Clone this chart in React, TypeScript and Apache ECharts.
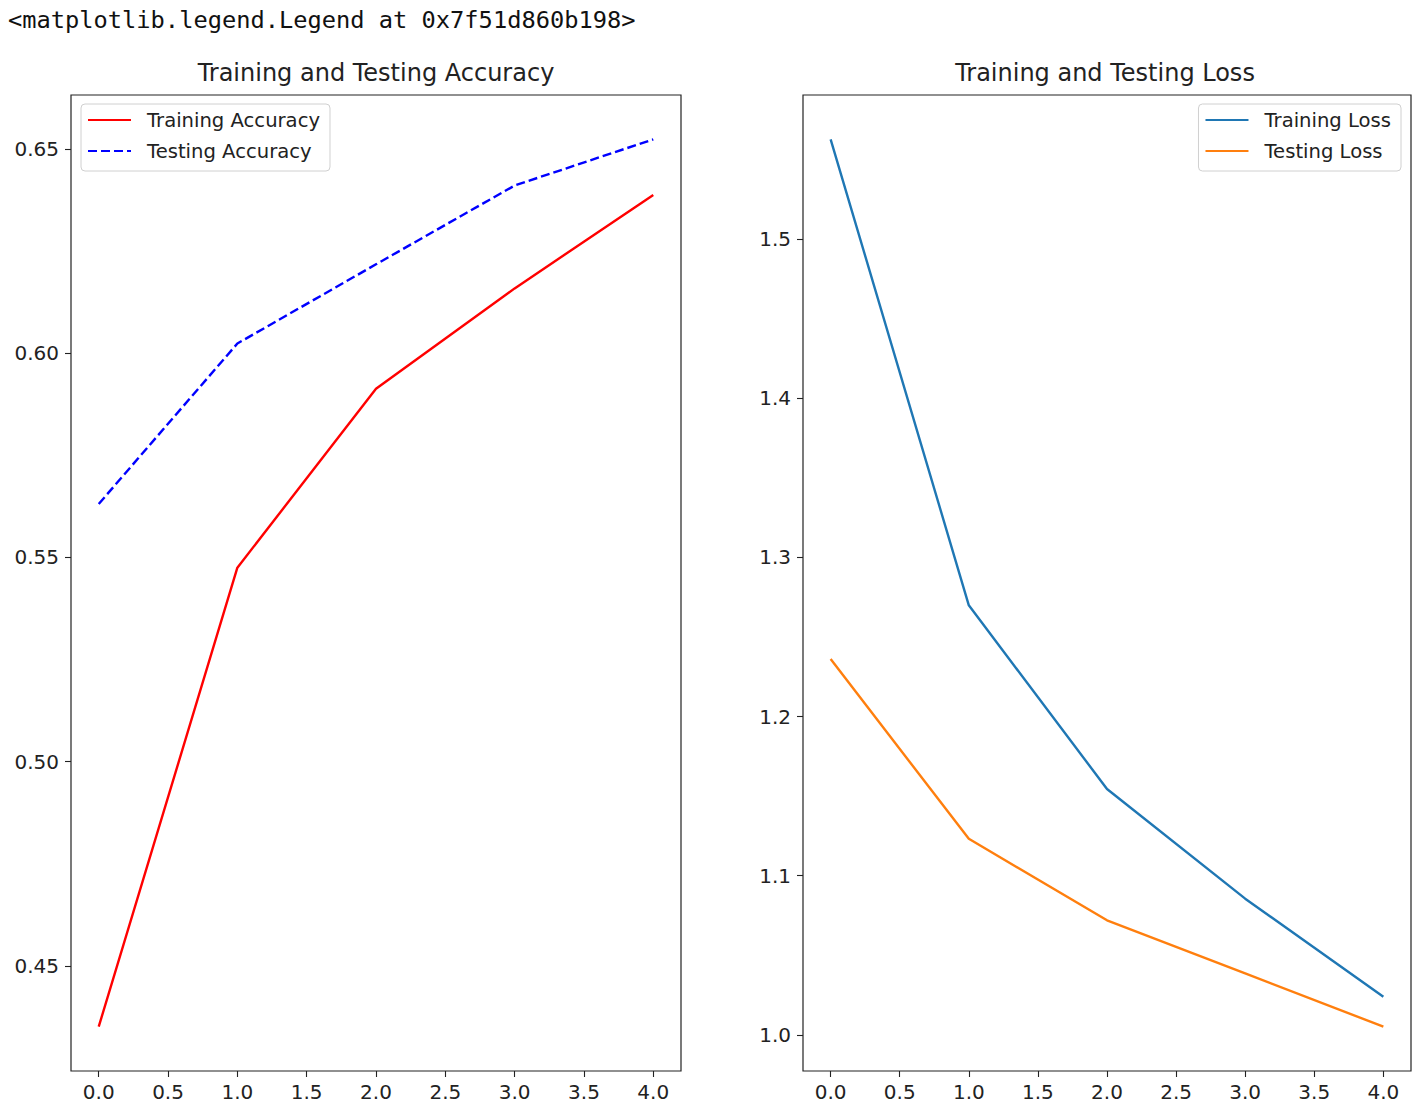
import React, { useEffect, useRef } from "react";
import * as echarts from "echarts";

const epochs = [0, 1, 2, 3, 4];
const trainAcc = [0.4351, 0.5475, 0.5913, 0.6159, 0.6388];
const testAcc = [0.5631, 0.6024, 0.6218, 0.6411, 0.6524];
const trainLoss = [1.5626, 1.2699, 1.1545, 1.0856, 1.024];
const testLoss = [1.2361, 1.1232, 1.072, 1.0386, 1.0052];

const xTicks = [0, 0.5, 1, 1.5, 2, 2.5, 3, 3.5, 4];
const accTicks = [0.45, 0.5, 0.55, 0.6, 0.65];
const lossTicks = [1.0, 1.1, 1.2, 1.3, 1.4, 1.5];

const headerText = "<matplotlib.legend.Legend at 0x7f51d860b198>";

const FONT = "DejaVu Sans";
const TXT = "#222";
const TICK_FS = 20;
const LEG_FS = 19.6;

function range(arrs: number[][]) {
  const all = arrs.flat();
  const lo = Math.min(...all);
  const hi = Math.max(...all);
  const m = (hi - lo) * 0.05;
  return [lo - m, hi + m];
}

function xAxisCfg(gridIndex: number) {
  return {
    type: "value",
    gridIndex,
    min: epochs[0] - 0.05 * (epochs[4] - epochs[0]),
    max: epochs[4] + 0.05 * (epochs[4] - epochs[0]),
    splitLine: { show: false },
    axisLine: { show: false, onZero: false },
    axisTick: {
      show: true,
      customValues: xTicks,
      length: 6,
      inside: false,
      lineStyle: { color: "#222", width: 1.1 },
    },
    axisLabel: {
      customValues: xTicks,
      formatter: (v: number) => v.toFixed(1),
      fontFamily: FONT,
      fontSize: TICK_FS,
      color: TXT,
      margin: 11,
    },
  };
}

function yAxisCfg(gridIndex: number, arrs: number[][], ticks: number[], digits: number) {
  const [lo, hi] = range(arrs);
  return {
    type: "value",
    gridIndex,
    min: lo,
    max: hi,
    splitLine: { show: false },
    axisLine: { show: false, onZero: false },
    axisTick: {
      show: true,
      customValues: ticks,
      length: 6,
      inside: false,
      lineStyle: { color: "#222", width: 1.1 },
    },
    axisLabel: {
      customValues: ticks,
      formatter: (v: number) => v.toFixed(digits),
      fontFamily: FONT,
      fontSize: TICK_FS,
      color: TXT,
      margin: 12,
      padding: [0, 0, 4, 0],
    },
  };
}

function legendCfg(names: string[], pos: any) {
  return {
    ...pos,
    top: 104,
    orient: "vertical",
    data: names,
    itemWidth: 43,
    itemHeight: 19,
    itemGap: 11,
    padding: [6, 10, 10, 6],
    backgroundColor: "rgba(255,255,255,0.8)",
    borderColor: "#d0d0d0",
    borderWidth: 1,
    borderRadius: 4,
    itemStyle: { opacity: 0 },
    textStyle: { fontFamily: FONT, fontSize: LEG_FS, color: TXT, padding: [0, 0, 0, 11] },
  };
}

function lineSeries(name: string, data: number[], idx: number, color: string, dashed = false) {
  return {
    type: "line",
    name,
    xAxisIndex: idx,
    yAxisIndex: idx,
    data: epochs.map((e, i) => [e, data[i]]),
    symbol: "none",
    showSymbol: false,
    lineStyle: { color, width: 2.4, type: dashed ? [9, 4] : "solid" },
    itemStyle: { color },
  };
}

export default function App() {
  const ref = useRef<HTMLDivElement>(null);
  useEffect(() => {
    if (!ref.current) return;
    const chart = echarts.init(ref.current, undefined, { renderer: "svg" });
    chart.setOption({
      animation: false,
      backgroundColor: "#fff",
      title: [
        {
          text: "Training and Testing Accuracy",
          left: 376,
          top: 61,
          textAlign: "center",
          padding: 0,
          textStyle: { fontFamily: FONT, fontSize: 24, fontWeight: "normal", color: TXT },
        },
        {
          text: "Training and Testing Loss",
          left: 1105,
          top: 61,
          textAlign: "center",
          padding: 0,
          textStyle: { fontFamily: FONT, fontSize: 24, fontWeight: "normal", color: TXT },
        },
      ],
      graphic: [
        {
          type: "text",
          left: 8,
          top: 8,
          style: { text: headerText, font: '23.7px "DejaVu Sans Mono"', fill: "#111" },
        },
      ],
      grid: [
        { left: 71, top: 95, width: 610, height: 976, show: true, borderColor: "#222", borderWidth: 1.2, backgroundColor: "transparent" },
        { left: 803, top: 95, width: 608, height: 976, show: true, borderColor: "#222", borderWidth: 1.2, backgroundColor: "transparent" },
      ],
      xAxis: [xAxisCfg(0), xAxisCfg(1)],
      yAxis: [yAxisCfg(0, [trainAcc, testAcc], accTicks, 2), yAxisCfg(1, [trainLoss, testLoss], lossTicks, 1)],
      legend: [
        legendCfg(["Training Accuracy", "Testing Accuracy"], { left: 81 }),
        legendCfg(["Training Loss", "Testing Loss"], { right: 17 }),
      ],
      series: [
        lineSeries("Training Accuracy", trainAcc, 0, "#ff0000"),
        lineSeries("Testing Accuracy", testAcc, 0, "#0000ff", true),
        lineSeries("Training Loss", trainLoss, 1, "#1f77b4"),
        lineSeries("Testing Loss", testLoss, 1, "#ff7f0e"),
      ],
    });
    return () => chart.dispose();
  }, []);
  return (
    <div
      ref={ref}
      style={{ position: "absolute", left: 0, top: 0, width: 1418, height: 1106 }}
    />
  );
}
